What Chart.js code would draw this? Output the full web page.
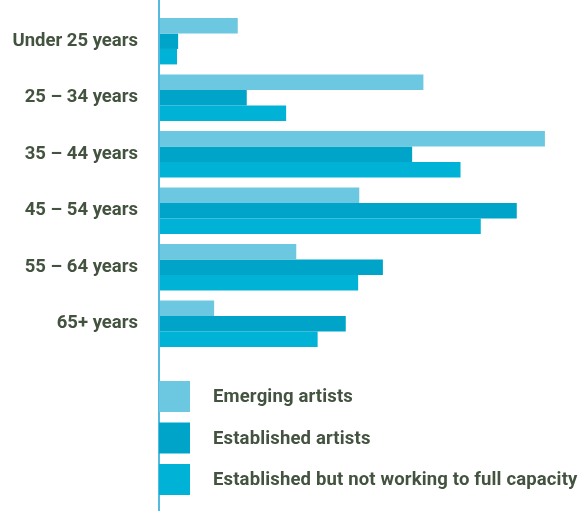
<!DOCTYPE html>
<html>
<head>
<meta charset="utf-8">
<script src="https://cdn.jsdelivr.net/npm/chart.js@4/dist/chart.umd.min.js"></script>
<style>
  html, body { margin: 0; padding: 0; background: #fff; }
  canvas { display: block; }
</style>
</head>
<body>
<canvas id="ageChart" width="579" height="511"></canvas>
<script>
// Age groups and share of respondents (%) per artist group
const ageGroups = ["Under 25 years", "25 – 34 years", "35 – 44 years", "45 – 54 years", "55 – 64 years", "65+ years"];
const seriesNames = ["Emerging artists", "Established artists", "Established but not working to full capacity"];
const emerging = [7.0, 23.5, 34.3, 17.8, 12.2, 4.9];
const established = [1.7, 7.8, 22.5, 31.8, 19.9, 16.6];
const notFullCapacity = [1.6, 11.3, 26.8, 28.6, 17.7, 14.1];
const colors = ["#6cc8e0", "#00a4c9", "#00b3d6"];

const textColor = "#43533f";
const labelFont = { family: "Roboto", weight: "bold", size: 18.5 };

// Axis line running the full height, plus the legend drawn underneath the bars
const axisAndLegend = {
    id: "axisAndLegend",
    afterDraw(chart) {
        const ctx = chart.ctx;
        const x0 = chart.scales.x.left;
        ctx.save();
        ctx.strokeStyle = "#55badd";
        ctx.lineWidth = 2;
        ctx.beginPath();
        ctx.moveTo(x0, 0);
        ctx.lineTo(x0, chart.height);
        ctx.stroke();

        ctx.font = "bold 18.5px Roboto";
        ctx.letterSpacing = "0.15px";
        ctx.textBaseline = "middle";
        chart.data.datasets.forEach((ds, i) => {
            const top = 381 + i * 41.5;
            ctx.fillStyle = ds.backgroundColor;
            ctx.fillRect(x0, top, 31, 31);
            ctx.fillStyle = textColor;
            ctx.fillText(ds.label, 213, top + 16.5);
        });
        ctx.restore();
    }
};

const chart = new Chart(document.getElementById("ageChart"), {
    type: "bar",
    data: {
        labels: ageGroups,
        datasets: [
            { label: seriesNames[0], data: emerging, backgroundColor: colors[0] },
            { label: seriesNames[1], data: established, backgroundColor: colors[1] },
            { label: seriesNames[2], data: notFullCapacity, backgroundColor: colors[2] }
        ]
    },
    options: {
        indexAxis: "y",
        responsive: false,
        maintainAspectRatio: false,
        animation: false,
        layout: { padding: { top: 13, bottom: 159, left: 0, right: 0 } },
        datasets: {
            bar: { barPercentage: 1, categoryPercentage: 0.82, borderWidth: 0 }
        },
        scales: {
            x: { display: false, min: 0, max: 37.33 },
            y: {
                grid: { display: false, drawTicks: false },
                border: { display: false },
                ticks: { color: textColor, font: labelFont, padding: 21 },
                afterFit(scale) {
                    scale.width = 159;
                    scale.paddingTop = 0;
                    scale.paddingBottom = 0;
                }
            }
        },
        plugins: {
            legend: { display: false },
            tooltip: { enabled: false }
        }
    },
    plugins: [axisAndLegend]
});
</script>
</body>
</html>
